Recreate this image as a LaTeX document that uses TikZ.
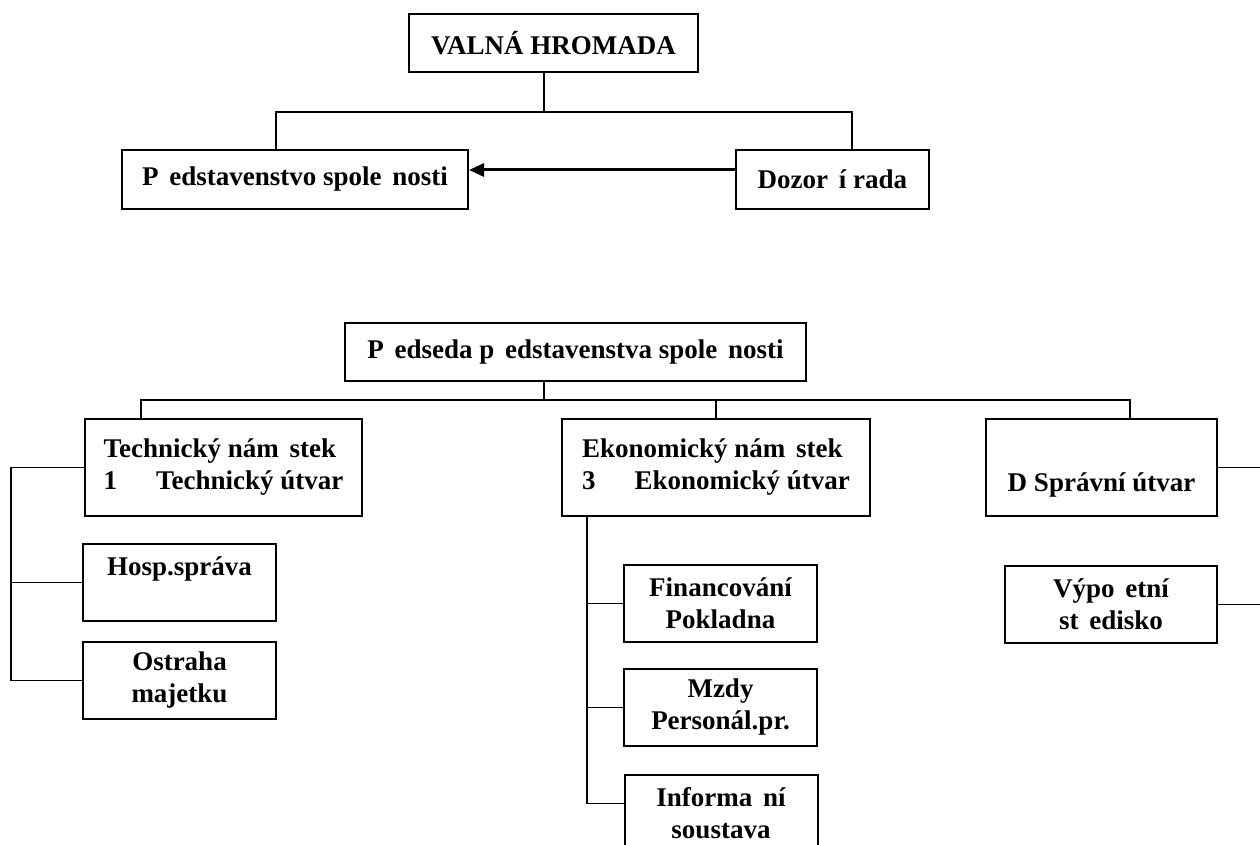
\documentclass[tikz,border=0pt]{standalone}
\usepackage{fontspec}
\setmainfont{Liberation Serif}
\usetikzlibrary{arrows.meta}
\tikzset{>=Triangle}
\tikzset{
  orgbox/.style={draw, line width=1pt, rectangle, inner sep=0pt, align=center,
    font=\fontsize{13.5}{16}\selectfont\bfseries},
  unitbox/.style={orgbox, minimum height=48.5pt},
  deptbox/.style={orgbox, minimum width=96.5pt, minimum height=38.5pt},
  conn/.style={line width=0.8pt},
  arr/.style={line width=1.5pt, -{Triangle[length=7.5pt,width=6.5pt]}}
}
\newcommand{\mis}{\hspace{0.4em}}

\begin{document}
\begin{tikzpicture}[x=0.5pt,y=-0.5pt]
  \path[use as bounding box] (0,0) rectangle (1260,845);
  \clip (0,0) rectangle (1260,845);
  % top
  \node[orgbox, minimum width=144.5pt, minimum height=29pt] (valna) at (553.5,43) {VALNÁ HROMADA};
  \node[orgbox, minimum width=173pt, minimum height=29.5pt] (predst) at (295,179.5) {P\mis edstavenstvo spole\mis nosti};
  \node[orgbox, minimum width=96.5pt, minimum height=29.5pt] (dozor) at (832.5,179.5) {Dozor\mis í rada};
  \coordinate (hub1) at (544,112);
  \draw[conn] (valna.south -| hub1) -- (hub1);
  \draw[conn] ([xshift=-9.5pt]predst.north) |- (hub1) -| ([xshift=9.75pt]dozor.north);
  \draw[arr] ([yshift=4.75pt]dozor.west) -- ([yshift=4.75pt]predst.east);
  % board chairman and units
  \node[orgbox, minimum width=230.5pt, minimum height=29pt] (predseda) at (575.5,352) {P\mis edseda p\mis edstavenstva spole\mis nosti};
  \node[unitbox, align=left, minimum width=138.5pt] (tech) at (223.5,467.5) {Technický nám\mis stek\\1\hspace{1.45em}Technický útvar};
  \node[unitbox, align=left, minimum width=154pt] (ekon) at (716,467.5) {Ekonomický nám\mis stek\\3\hspace{1.45em}Ekonomický útvar};
  \node[unitbox, minimum width=115.5pt] (sprav) at (1101.5,467.5) {\strut\\D Správní útvar};
  \coordinate (hub2) at (544,400);
  \draw[conn] (predseda.south -| hub2) -- (hub2);
  \draw[conn] ([xshift=-41.25pt]tech.north) |- (hub2) -| ([xshift=14.25pt]sprav.north);
  \draw[conn] (ekon.north) -- (ekon.north |- hub2);
  % departments
  \node[deptbox] (hosp) at (179.5,582.5) {Hosp.správa\\\mbox{}};
  \node[deptbox] (ostraha) at (179.5,680.5) {Ostraha\\majetku};
  \node[deptbox] (financ) at (720.5,603.5) {Financování\\Pokladna};
  \node[deptbox] (mzdy) at (720.5,707.5) {Mzdy\\Personál.pr.};
  \node[deptbox] (inform) at (721,813.5) {Informa\mis ní\\soustava};
  \node[deptbox, minimum width=106pt] (vypoc) at (1111,604.5) {Výpo\mis etní\\st\mis edisko};
  \coordinate (techrail) at (11,0);
  \draw[conn] (tech.west) -| (techrail |- ostraha.west) -- (ostraha.west);
  \draw[conn] (hosp.west -| techrail) -- (hosp.west);
  \coordinate (ekonrail) at (587,0);
  \draw[conn] (ekon.south -| ekonrail) |- ([yshift=5pt]inform.west);
  \draw[conn] (financ.west -| ekonrail) -- (financ.west);
  \draw[conn] (mzdy.west -| ekonrail) -- (mzdy.west);
  \coordinate (redge) at (1270,0);
  \draw[conn] (sprav.east) -- (sprav.east -| redge);
  \draw[conn] (vypoc.east) -- (vypoc.east -| redge);
\end{tikzpicture}
\end{document}
